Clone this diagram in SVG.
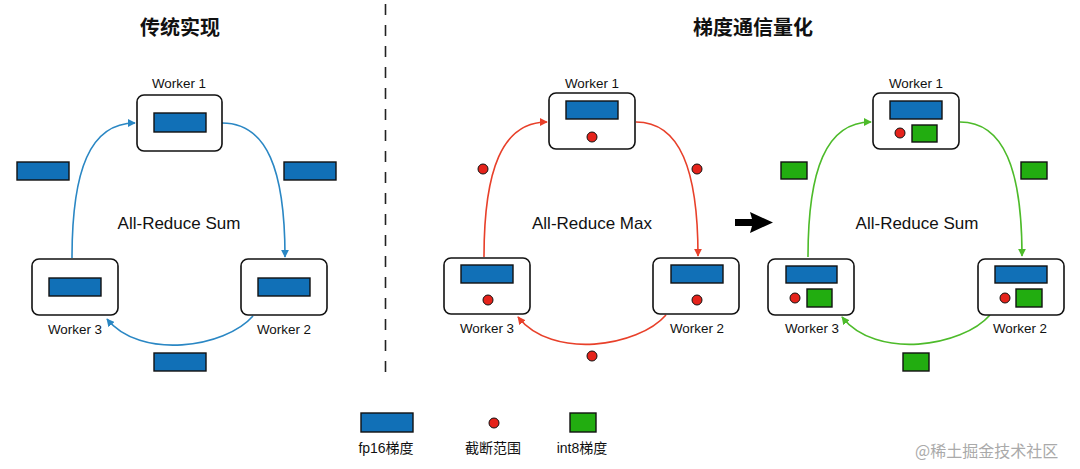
<svg xmlns="http://www.w3.org/2000/svg" width="1080" height="469" viewBox="0 0 1080 469">
<defs>
<style>
.box{fill:#fff;stroke:#111;stroke-width:1.6}
.fp{fill:#1170b7;stroke:#111;stroke-width:1.4}
.i8{fill:#22ad10;stroke:#111;stroke-width:1.4}
.dot{fill:#e5231b;stroke:#111;stroke-width:1}
.lbl{font-family:"Liberation Sans",Arial,sans-serif;font-size:13.4px;fill:#111;text-anchor:middle}
.ar{font-family:"Liberation Sans",Arial,sans-serif;font-size:17px;fill:#111;text-anchor:middle}
.ttl{font-family:"Noto Sans CJK SC",sans-serif;font-size:20px;font-weight:bold;fill:#111;text-anchor:middle}
.leg{font-family:"Liberation Sans","Noto Sans CJK SC",sans-serif;font-size:14px;fill:#111;text-anchor:middle}
.wm{font-family:"Noto Sans CJK SC",sans-serif;font-size:16px;fill:#aaa}
.cb{fill:none;stroke:#2a87c4;stroke-width:1.6}
.cr{fill:none;stroke:#e8402a;stroke-width:1.6}
.cg{fill:none;stroke:#4dbb2a;stroke-width:1.6}
</style>
<marker id="mb" viewBox="0 0 10 10" refX="9" refY="5" markerWidth="8" markerHeight="8" markerUnits="userSpaceOnUse" orient="auto"><path d="M0,0 L10,5 L0,10 z" fill="#2a87c4"/></marker>
<marker id="mr" viewBox="0 0 10 10" refX="9" refY="5" markerWidth="8" markerHeight="8" markerUnits="userSpaceOnUse" orient="auto"><path d="M0,0 L10,5 L0,10 z" fill="#e8402a"/></marker>
<marker id="mg" viewBox="0 0 10 10" refX="9" refY="5" markerWidth="8" markerHeight="8" markerUnits="userSpaceOnUse" orient="auto"><path d="M0,0 L10,5 L0,10 z" fill="#4dbb2a"/></marker>
</defs>
<rect width="1080" height="469" fill="#fff"/>

<text class="ttl" x="180" y="35">传统实现</text>
<text class="ttl" x="753" y="35">梯度通信量化</text>
<line x1="385.5" y1="4" x2="385.5" y2="376" stroke="#222" stroke-width="1.6" stroke-dasharray="11 10"/>

<g id="connectors">
<path class="cb" d="M72 258 C72 170 90 123 135 123" marker-end="url(#mb)"/>
<path class="cb" d="M222 123 C267 123 285 170 285 257" marker-end="url(#mb)"/>
<path class="cb" d="M253 316 C225 348 140 360 107 319" marker-end="url(#mb)"/>
<path class="cr" d="M484 257 C484 170 502 122 547 122" marker-end="url(#mr)"/>
<path class="cr" d="M636 122 C680 122 698 170 698 256" marker-end="url(#mr)"/>
<path class="cr" d="M666 315 C638 347 552 360 518 317" marker-end="url(#mr)"/>
<path class="cg" d="M808 257 C808 170 826 122 871 122" marker-end="url(#mg)"/>
<path class="cg" d="M960 122 C1004 122 1022 170 1022 256" marker-end="url(#mg)"/>
<path class="cg" d="M990 315 C962 347 876 360 842 317" marker-end="url(#mg)"/>
<path d="M735 219 L752 219 L750 212 L773 222.5 L750 233 L752 226 L735 226 z" fill="#000"/>
</g>

<!-- left section -->
<g id="l-w1">
<text class="lbl" x="179" y="88">Worker 1</text>
<rect class="box" x="137" y="95" width="85" height="56" rx="7"/>
<rect class="fp" x="154" y="113" width="52" height="19"/>
</g>
<g id="l-w2">
<rect class="box" x="241" y="259" width="86" height="56" rx="7"/>
<rect class="fp" x="258" y="278" width="52" height="18"/>
<text class="lbl" x="284" y="334">Worker 2</text>
</g>
<g id="l-w3">
<rect class="box" x="32" y="259" width="86" height="56" rx="7"/>
<rect class="fp" x="49" y="278" width="52" height="18"/>
<text class="lbl" x="75" y="334">Worker 3</text>
</g>
<g id="l-data">
<rect class="fp" x="17" y="162" width="52" height="18"/>
<rect class="fp" x="284" y="162" width="52" height="18"/>
<rect class="fp" x="154" y="353" width="52" height="18"/>
<text class="ar" x="179" y="229">All-Reduce Sum</text>
</g>

<!-- middle section -->
<g id="m-w1">
<text class="lbl" x="592" y="88">Worker 1</text>
<rect class="box" x="549" y="93" width="86" height="56" rx="7"/>
<rect class="fp" x="566" y="101" width="52" height="18"/>
<circle class="dot" cx="592" cy="137" r="5"/>
</g>
<g id="m-w2">
<rect class="box" x="653" y="258" width="86" height="56" rx="7"/>
<rect class="fp" x="671" y="265" width="52" height="18"/>
<circle class="dot" cx="697" cy="300" r="5"/>
<text class="lbl" x="697" y="333">Worker 2</text>
</g>
<g id="m-w3">
<rect class="box" x="444" y="258" width="86" height="56" rx="7"/>
<rect class="fp" x="461" y="265" width="52" height="18"/>
<circle class="dot" cx="488" cy="300" r="5"/>
<text class="lbl" x="487" y="333">Worker 3</text>
</g>
<g id="m-data">
<circle class="dot" cx="483" cy="169" r="5"/>
<circle class="dot" cx="697" cy="169" r="5"/>
<circle class="dot" cx="592" cy="356" r="5"/>
<text class="ar" x="592" y="229">All-Reduce Max</text>
</g>

<!-- right section -->
<g id="r-w1">
<text class="lbl" x="916" y="88">Worker 1</text>
<rect class="box" x="873" y="93" width="86" height="56" rx="7"/>
<rect class="fp" x="890" y="101" width="52" height="18"/>
<circle class="dot" cx="900" cy="133" r="5"/>
<rect class="i8" x="912" y="125" width="25" height="17"/>
</g>
<g id="r-w2">
<rect class="box" x="978" y="259" width="86" height="56" rx="7"/>
<rect class="fp" x="995" y="266" width="52" height="17"/>
<circle class="dot" cx="1005" cy="298" r="5"/>
<rect class="i8" x="1016" y="289" width="26" height="18"/>
<text class="lbl" x="1020" y="333">Worker 2</text>
</g>
<g id="r-w3">
<rect class="box" x="768" y="259" width="86" height="56" rx="7"/>
<rect class="fp" x="786" y="266" width="51" height="17"/>
<circle class="dot" cx="795" cy="298" r="5"/>
<rect class="i8" x="807" y="289" width="25" height="18"/>
<text class="lbl" x="812" y="333">Worker 3</text>
</g>
<g id="r-data">
<rect class="i8" x="781" y="162" width="26" height="17"/>
<rect class="i8" x="1021" y="162" width="26" height="17"/>
<rect class="i8" x="903" y="353" width="26" height="18"/>
<text class="ar" x="917" y="229">All-Reduce Sum</text>
</g>

<!-- legend -->
<g id="legend">
<rect class="fp" x="361" y="413" width="52" height="19"/>
<text class="leg" x="386" y="453">fp16梯度</text>
<circle class="dot" cx="494" cy="423" r="5"/>
<text class="leg" x="493" y="453">截断范围</text>
<rect class="i8" x="570" y="413" width="26" height="19"/>
<text class="leg" x="582" y="453">int8梯度</text>
</g>
<text class="wm" x="915" y="457">@稀土掘金技术社区</text>
</svg>
